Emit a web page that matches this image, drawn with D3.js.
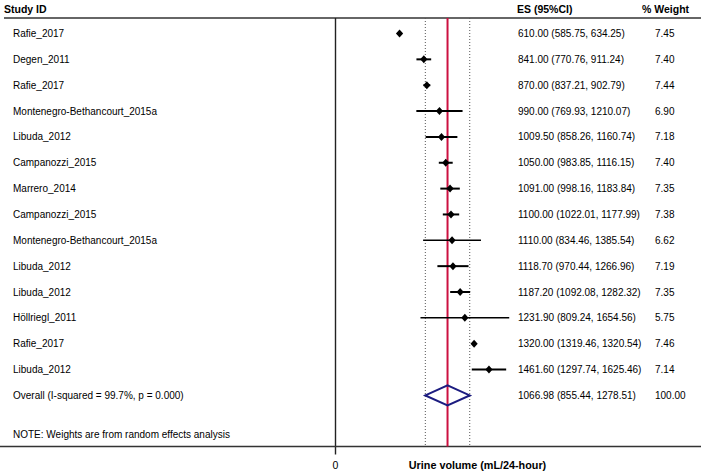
<!DOCTYPE html>
<html><head><meta charset="utf-8">
<script src="https://cdn.jsdelivr.net/npm/d3@7"></script>
<style>body{margin:0;background:#fff}svg{display:block}text{font-family:"Liberation Sans",Arial,sans-serif}</style>
</head><body><svg id="c" width="709" height="475"></svg>
<script>
const studies = ["Rafie_2017","Degen_2011","Rafie_2017","Montenegro-Bethancourt_2015a","Libuda_2012","Campanozzi_2015","Marrero_2014","Campanozzi_2015","Montenegro-Bethancourt_2015a","Libuda_2012","Libuda_2012","Höllriegl_2011","Rafie_2017","Libuda_2012"];
const es = [610.00,841.00,870.00,990.00,1009.50,1050.00,1091.00,1100.00,1110.00,1118.70,1187.20,1231.90,1320.00,1461.60];
const lo = [585.75,770.76,837.21,769.93,858.26,983.85,998.16,1022.01,834.46,970.44,1092.08,809.24,1319.46,1297.74];
const hi = [634.25,911.24,902.79,1210.07,1160.74,1116.15,1183.84,1177.99,1385.54,1266.96,1282.32,1654.56,1320.54,1625.46];
const weights = ["7.45","7.40","7.44","6.90","7.18","7.40","7.35","7.38","6.62","7.19","7.35","5.75","7.46","7.14"];
const overall = {label:"Overall  (I-squared = 99.7%, p = 0.000)", es:1066.98, lo:855.44, hi:1278.51, w:"100.00"};
const note = "NOTE: Weights are from random effects analysis";
const axisTicks = [0];
const axisTitle = "Urine volume (mL/24-hour)";
const headers = ["Study ID","ES (95%CI)","% Weight"];

const svg = d3.select("#c");
const x = d3.scaleLinear().domain([0,1000]).range([335.5,440.5]);
const rows = d3.range(studies.length+1);
const y = d3.scalePoint().domain(rows).range([33.5,395.4]);
const yTop = 18, yBot = 446.5;
const fmt = d3.format(".2f");

// header
svg.append("text").attr("x",4).attr("y",13).attr("font-size",10.5).attr("font-weight","bold").text(headers[0]);
svg.append("text").attr("x",517).attr("y",13).attr("font-size",10.5).attr("font-weight","bold").text(headers[1]);
svg.append("text").attr("x",642).attr("y",13).attr("font-size",10.5).attr("font-weight","bold").text(headers[2]);
svg.append("line").attr("x1",4).attr("x2",701).attr("y1",yTop).attr("y2",yTop).attr("stroke","#333").attr("stroke-width",1.4);

// dotted CI lines of overall
[overall.lo, overall.hi].forEach(v=>{
  svg.append("line").attr("x1",x(v)).attr("x2",x(v)).attr("y1",yTop).attr("y2",yBot)
    .attr("stroke","#555").attr("stroke-width",1).attr("stroke-dasharray","1,2");
});

// vertical line at zero
svg.append("line").attr("x1",x(0)).attr("x2",x(0)).attr("y1",yTop).attr("y2",yBot+8).attr("stroke","#222").attr("stroke-width",1.4);

// axis
svg.append("line").attr("x1",0).attr("x2",701).attr("y1",yBot).attr("y2",yBot).attr("stroke","#333").attr("stroke-width",1.4);
svg.selectAll(".tk").data(axisTicks).enter().append("text").attr("x",d=>x(d)).attr("y",469)
  .attr("font-size",10.5).attr("text-anchor","middle").text(d=>d);
svg.append("text").attr("x",477.5).attr("y",469).attr("font-size",10.8).attr("font-weight","bold")
  .attr("text-anchor","middle").text(axisTitle);

// red overall line
svg.append("line").attr("x1",x(overall.es)).attr("x2",x(overall.es)).attr("y1",yTop).attr("y2",yBot)
  .attr("stroke","#cc1040").attr("stroke-width",2);

// studies
const g = svg.append("g");
studies.forEach((s,i)=>{
  const yy = y(i);
  g.append("text").attr("x",13).attr("y",yy).attr("dy","0.35em").attr("font-size",10).text(s);
  g.append("text").attr("x",518).attr("y",yy).attr("dy","0.35em").attr("font-size",10)
    .text(`${fmt(es[i])} (${fmt(lo[i])}, ${fmt(hi[i])})`);
  g.append("text").attr("x",655).attr("y",yy).attr("dy","0.35em").attr("font-size",10).text(weights[i]);
  g.append("line").attr("x1",x(lo[i])).attr("x2",x(hi[i])).attr("y1",yy).attr("y2",yy)
    .attr("stroke","#000").attr("stroke-width",(+weights[i]<6.7)?1.5:2);
  const cx = x(es[i]);
  g.append("path").attr("d",`M${cx-3.6},${yy}L${cx},${yy-4}L${cx+3.6},${yy}L${cx},${yy+4}Z`).attr("fill","#000");
});

// overall
const oy = y(studies.length);
svg.append("text").attr("x",13).attr("y",oy).attr("dy","0.35em").attr("font-size",10).text(overall.label);
svg.append("text").attr("x",518).attr("y",oy).attr("dy","0.35em").attr("font-size",10)
  .text(`${fmt(overall.es)} (${fmt(overall.lo)}, ${fmt(overall.hi)})`);
svg.append("text").attr("x",655).attr("y",oy).attr("dy","0.35em").attr("font-size",10).text(overall.w);
svg.append("path").attr("d",`M${x(overall.lo)},${oy}L${x(overall.es)},${oy-10}L${x(overall.hi)},${oy}L${x(overall.es)},${oy+10}Z`)
  .attr("fill","none").attr("stroke","#1c1c80").attr("stroke-width",2);

svg.append("text").attr("x",13).attr("y",434).attr("dy","0.35em").attr("font-size",10).text(note);
</script></body></html>
